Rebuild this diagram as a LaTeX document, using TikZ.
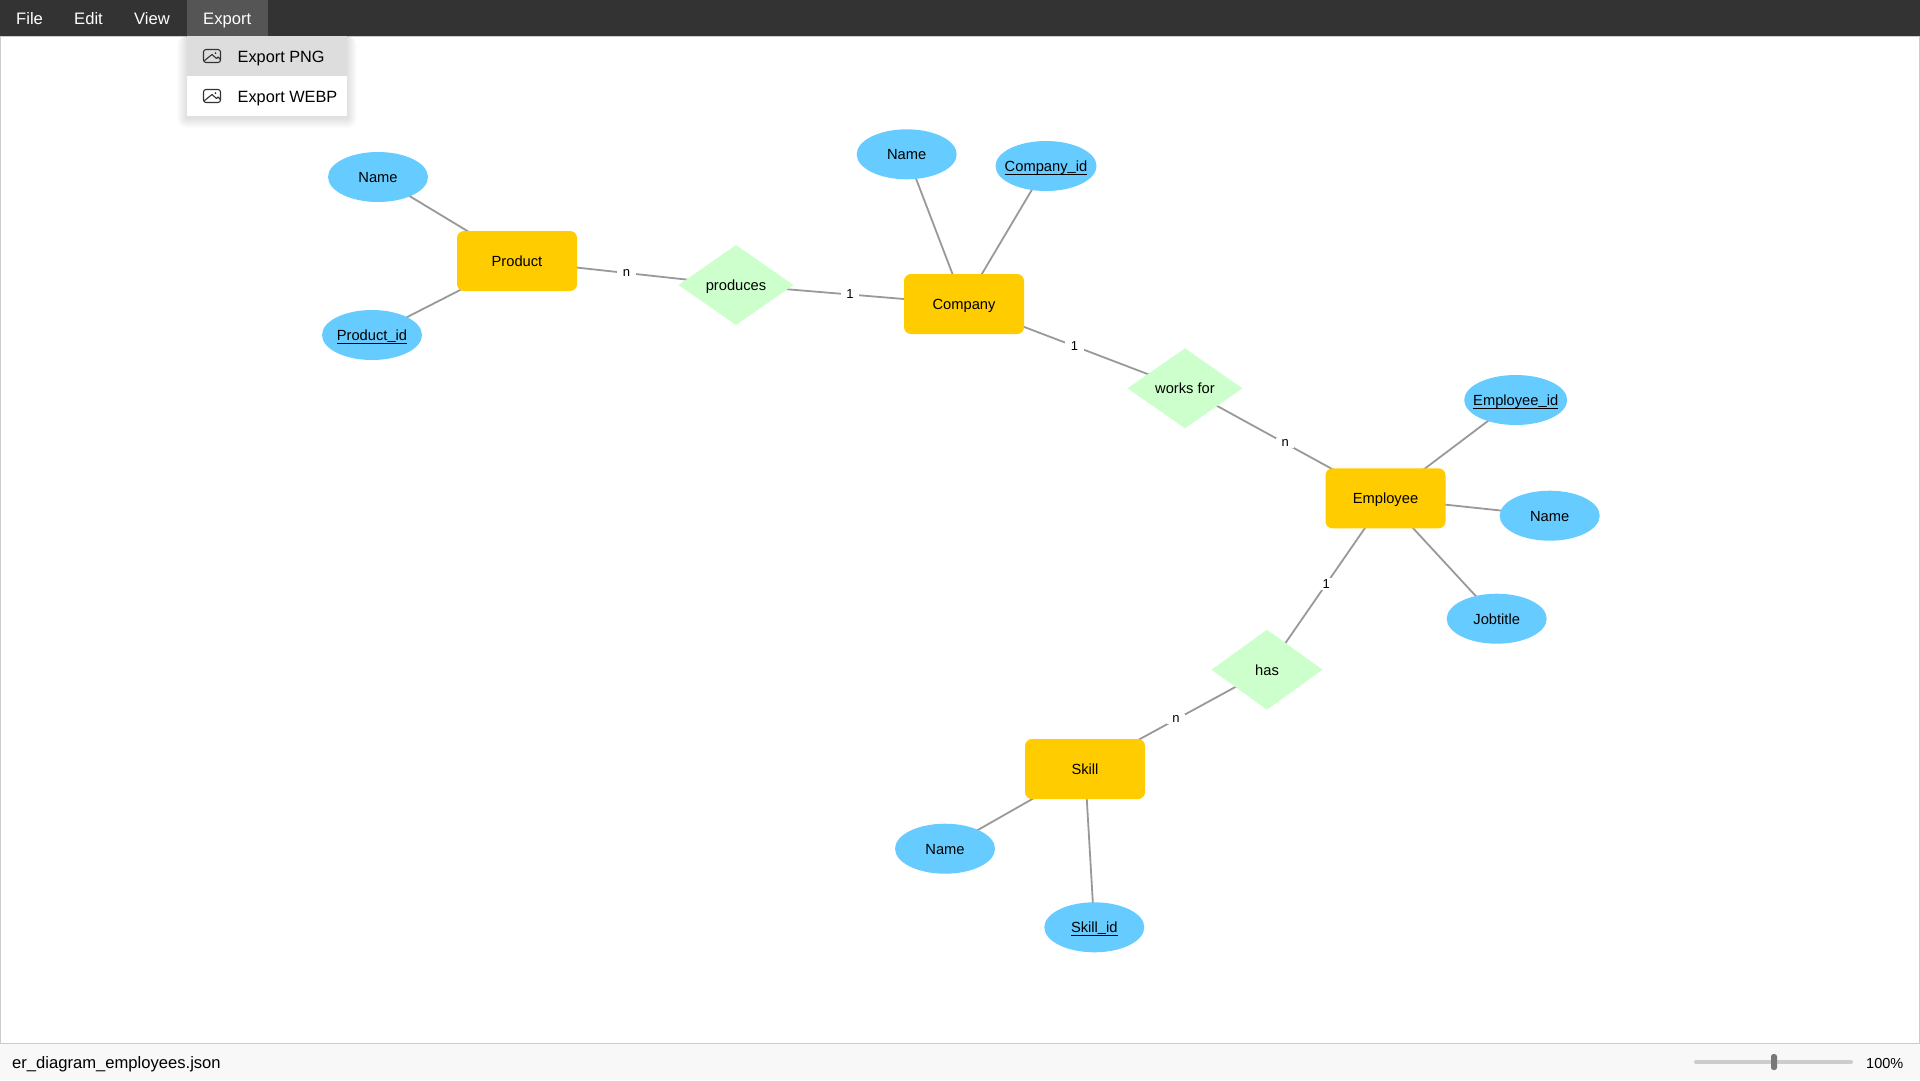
\documentclass[tikz,border=0pt]{standalone}
\usepackage{fontspec}
\setmainfont{Liberation Sans}
\usetikzlibrary{positioning,shapes.geometric,calc,backgrounds}
\definecolor{barcol}{HTML}{333333}
\definecolor{activecol}{HTML}{555555}
\definecolor{hovercol}{HTML}{DDDDDD}
\definecolor{statuscol}{HTML}{F8F8F8}
\definecolor{bordercol}{HTML}{CCCCCC}
\definecolor{linecol}{HTML}{999999}
\definecolor{entitycol}{HTML}{FFCC00}
\definecolor{attrcol}{HTML}{66CCFF}
\definecolor{relcol}{HTML}{CCFFCC}
\newcommand\keyname[1]{\setbox0\hbox{#1}\hbox to 0pt{\hss\rlap{\rule[-3.3pt]{\wd0}{1pt}}\box0\hss}}
\newcommand\lowbar{\raisebox{1.2pt}{\_}}
\newcommand\imgicon[1]{
\draw[icon,rounded corners=2.5pt] ($(#1)+(-8.5,-6.5)$) rectangle ($(#1)+(8.5,6.5)$);
\draw[icon,line join=round] ($(#1)+(-8,5)$) -- ($(#1)+(-2.5,0.5)$) -- ($(#1)+(0,-1.5)$) -- ($(#1)+(4.5,2.5)$) -- ($(#1)+(6,1)$) -- ($(#1)+(8.5,3.5)$);
\fill[barcol] ($(#1)+(3.5,-3)$) circle (1pt);
}
\tikzset{
diagtext/.style={inner sep=0pt,outer sep=0pt,text height=10.6pt,text depth=0pt,font=\fontsize{14.7}{18}\selectfont},
entity/.style={diagtext,rectangle,fill=entitycol,rounded corners=7pt,minimum width=120pt,minimum height=60pt},
attr/.style={diagtext,ellipse,fill=attrcol,minimum width=100pt,minimum height=50pt},
rel/.style={diagtext,diamond,fill=relcol,minimum width=115pt,minimum height=80pt},
link/.style={draw=linecol,line width=1.8pt},
card/.style={midway,fill=white,inner xsep=5.5pt,inner ysep=1.5pt,font=\fontsize{13}{15}\selectfont},
menutext/.style={anchor=base west,inner sep=0pt,font=\fontsize{16.6}{20}\selectfont},
icon/.style={draw=barcol,line width=1.1pt}
}
\begin{document}
\begin{tikzpicture}[x=1pt,y=-1pt,on grid]
\useasboundingbox (0,0) rectangle (1920,1080);
\node[entity] (product) at (517,261) {Product};
\node[attr,above left=84pt and 139pt of product] (productname) {Name};
\node[attr,below left=74pt and 145pt of product] (productid) {\keyname{Product\lowbar id}};
\node[rel,below right=24pt and 219pt of product] (produces) {produces};
\node[entity,below right=19pt and 228pt of produces] (company) {Company};
\node[attr,above left=149.7pt and 57.3pt of company] (companyname) {Name};
\node[attr,above right=138pt and 82pt of company,minimum width=101pt] (companyid) {\keyname{Company\lowbar id}};
\node[rel,below right=84.3pt and 221pt of company] (worksfor) {works for};
\node[entity,below right=110pt and 200.5pt of worksfor] (employee) {Employee};
\node[attr,above right=98.3pt and 130.2pt of employee,minimum width=103pt] (employeeid) {\keyname{Employee\lowbar id}};
\node[attr,below right=17.4pt and 164.2pt of employee] (employeename) {Name};
\node[attr,below right=120.4pt and 111.2pt of employee] (jobtitle) {Jobtitle};
\node[rel,below left=171.4pt and 118.5pt of employee,minimum width=111pt] (has) {has};
\node[entity,below left=99.3pt and 182pt of has] (skill) {Skill};
\node[attr,below left=79.7pt and 140pt of skill] (skillname) {Name};
\node[attr,below right=158.3pt and 9.3pt of skill] (skillid) {\keyname{Skill\lowbar id}};
\begin{scope}[on background layer]
\fill[white] (0,0) rectangle (1920,1080);
\draw[bordercol,line width=1pt] (0.5,36) rectangle (1919.5,1043.5);
\draw[link] (productname.center) -- (product.center);
\draw[link] (productid.center) -- (product.center);
\draw[link] (product.center) -- node[card] {n} (produces.center);
\draw[link] (produces.center) -- node[card] {1} (company.center);
\draw[link] (companyname.center) -- (company.center);
\draw[link] (companyid.center) -- (company.center);
\draw[link] (company.center) -- node[card] {1} (worksfor.center);
\draw[link] (worksfor.center) -- node[card] {n} (employee.center);
\draw[link] (employeeid.center) -- (employee.center);
\draw[link] (employeename.center) -- (employee.center);
\draw[link] (jobtitle.center) -- (employee.center);
\draw[link] (employee.center) -- node[card] {1} (has.center);
\draw[link] (has.center) -- node[card] {n} (skill.center);
\draw[link] (skillname.center) -- (skill.center);
\draw[link] (skillid.center) -- (skill.center);
\end{scope}
\fill[statuscol] (0,1044) rectangle (1920,1080);
\fill[barcol] (0,0) rectangle (1920,36);
\fill[activecol] (187,0) rectangle (268,36);
\node[menutext,text=white] (file) at (16,24) {File};
\node[menutext,text=white] (edit) at (74,24) {Edit};
\node[menutext,text=white] (view) at (134,24) {View};
\node[menutext,text=white] (export) at (203,24) {Export};
\foreach \s in {1,...,10}
\fill[black,opacity=0.011,rounded corners=\s pt] (187-\s,36) rectangle (347+\s,116+\s+2);
\fill[white] (187,36) rectangle (347,116);
\fill[hovercol] (187,36) rectangle (347,76);
\coordinate (iconpng) at (212,56);
\coordinate (iconwebp) at (212,96);
\imgicon{iconpng}
\imgicon{iconwebp}
\node[menutext,font=\fontsize{16.3}{20}\selectfont] (exportpng) at (237.5,62) {Export PNG};
\node[menutext,font=\fontsize{16.3}{20}\selectfont] (exportwebp) at (237.5,102) {Export WEBP};
\node[menutext] (statusfile) at (12,1068) {er\_diagram\_employees.json};
\coordinate (trackl) at (1696,1062);
\coordinate (trackr) at (1851,1062);
\draw[bordercol,line width=4pt,line cap=round] (trackl) -- (trackr);
\node[fill=black!53,rounded corners=2.5pt,minimum width=6pt,minimum height=16pt,inner sep=0pt] (thumb) at (1774,1062) {};
\node[menutext,font=\fontsize{14.5}{18}\selectfont] (zoomlevel) at (1866,1068) {100\%};
\end{tikzpicture}
\end{document}
